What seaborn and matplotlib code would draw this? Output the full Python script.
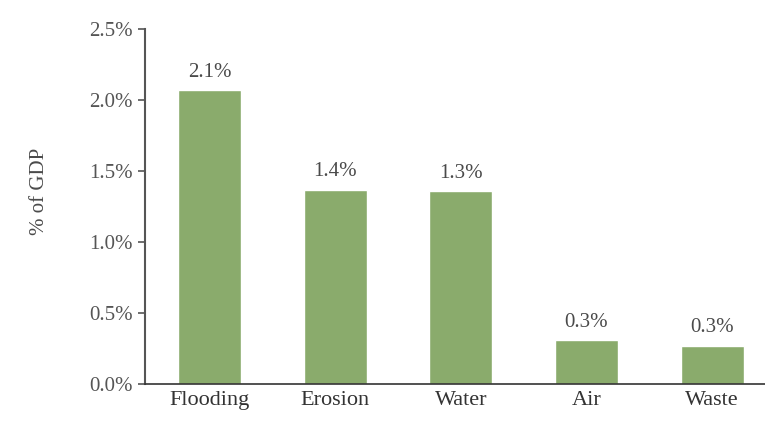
import matplotlib
matplotlib.use("Agg")
import matplotlib.pyplot as plt
import seaborn as sns
import pandas as pd

# Koszty degradacji środowiska (% PKB)
categories = ["Flooding", "Erosion", "Water", "Air", "Waste"]
values = [2.07, 1.37, 1.36, 0.31, 0.27]
labels = ["2.1%", "1.4%", "1.3%", "0.3%", "0.3%"]
yticks = [0.0, 0.5, 1.0, 1.5, 2.0, 2.5]
ytick_labels = ["0.0%", "0.5%", "1.0%", "1.5%", "2.0%", "2.5%"]

df = pd.DataFrame({"category": categories, "value": values})

sns.set_style("white")
plt.rcParams['font.family'] = ['Liberation Serif', 'DejaVu Serif']

fig = plt.figure(figsize=(7.65, 4.23), dpi=100)
ax = fig.add_axes([0.19, 0.092, 0.81, 0.839])

sns.barplot(data=df, x="category", y="value", color="#8aab6c", width=0.5,
            saturation=1, ax=ax)

ax.bar_label(ax.containers[0], labels=labels, padding=6, fontsize=15, color="#4a4a4a")

ax.set_xlim(-0.51, 4.42)
ax.set_ylim(0, 2.5)
ax.set_yticks(yticks)
ax.set_yticklabels(ytick_labels)
ax.set_xlabel("")
ax.set_ylabel("% of GDP", fontsize=15, color="#4a4a4a")
ax.yaxis.set_label_coords(-0.155, 0.544)

ax.tick_params(axis="y", length=5, width=1.2, color="#555555", labelsize=15,
               labelcolor="#555555", left=True, pad=4)
ax.tick_params(axis="x", length=0, labelsize=16, labelcolor="#333333", pad=5)

sns.despine(ax=ax)
ax.spines["left"].set_color("#555555")
ax.spines["left"].set_linewidth(1.5)
ax.spines["bottom"].set_color("#333333")
ax.spines["bottom"].set_linewidth(1.2)

plt.savefig("out.png", dpi=100)
